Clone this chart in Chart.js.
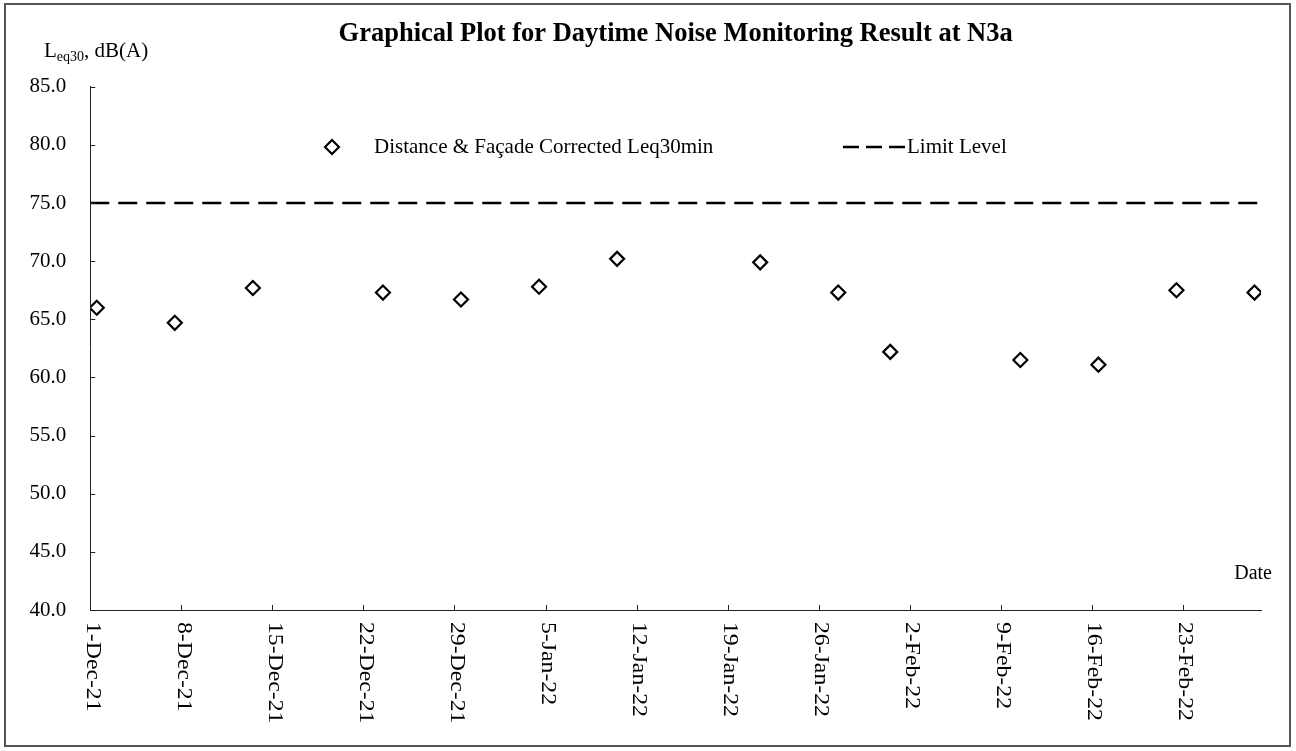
<!DOCTYPE html>
<html lang="en">

<head>
    <meta charset="UTF-8">
    <title>Daytime Noise Monitoring N3a</title>
    <script src="https://cdn.jsdelivr.net/npm/chart.js"></script>
    <style>
        body { margin: 0; background: #fff; }
    </style>
</head>

<body>
    <canvas id="noiseChart" width="1296" height="751"></canvas>
    <script>
        // measurement dates and corrected Leq30min, dB(A)
        const measureDates = ['2021-12-01', '2021-12-07', '2021-12-13', '2021-12-23', '2021-12-29', '2022-01-04', '2022-01-10',
            '2022-01-21', '2022-01-27', '2022-01-31', '2022-02-10', '2022-02-16', '2022-02-22', '2022-02-28'];
        const leq30 = [66.0, 64.7, 67.7, 67.3, 66.7, 67.8, 70.2, 69.9, 67.3, 62.2, 61.5, 61.1, 67.5, 67.3];

        // limit level across the whole period
        const limitDates = ['2021-12-01', '2022-03-01'];
        const limitLevel = [75, 75];

        // axis
        const axisStart = '2021-12-01';
        const axisEnd = '2022-03-01';
        const xTickLabels = ['1-Dec-21', '8-Dec-21', '15-Dec-21', '22-Dec-21', '29-Dec-21', '5-Jan-22', '12-Jan-22',
            '19-Jan-22', '26-Jan-22', '2-Feb-22', '9-Feb-22', '16-Feb-22', '23-Feb-22'];
        const yMin = 40, yMax = 85, yStep = 5;

        const serif = "'Liberation Serif', 'Times New Roman', serif";
        const day0 = Date.parse(axisStart + 'T00:00:00Z');
        // days since axis start; readings are plotted at midday
        function dayOf(s, hour) {
            return (Date.parse(s + 'T' + (hour || '00') + ':00:00Z') - day0) / 864e5;
        }

        const leqPoints = measureDates.map((d, i) => ({ x: dayOf(d, '12'), y: leq30[i] }));
        const limitPoints = limitDates.map((d, i) => ({ x: dayOf(d), y: limitLevel[i] }));

        const decorations = {
            id: 'decorations',
            afterDraw(chart) {
                const { ctx, chartArea } = chart;
                const xs = chart.scales.x, ys = chart.scales.y;
                ctx.save();

                // frame
                ctx.strokeStyle = '#555';
                ctx.lineWidth = 2;
                ctx.strokeRect(5, 4, 1285, 742);

                // inward tick marks
                ctx.strokeStyle = '#222';
                ctx.lineWidth = 1;
                ctx.beginPath();
                xTickLabels.forEach((t, i) => {
                    const px = Math.round(xs.getPixelForValue(i * 7)) + 0.5;
                    ctx.moveTo(px, chartArea.bottom);
                    ctx.lineTo(px, chartArea.bottom - 5);
                });
                ys.ticks.forEach(t => {
                    const py = Math.round(ys.getPixelForValue(t.value)) + 0.5;
                    ctx.moveTo(chartArea.left, py);
                    ctx.lineTo(chartArea.left + 5, py);
                });
                ctx.stroke();

                // rotated date labels
                ctx.fillStyle = '#000';
                ctx.font = '21px ' + serif;
                ctx.textAlign = 'left';
                ctx.textBaseline = 'middle';
                xTickLabels.forEach((t, i) => {
                    ctx.save();
                    ctx.translate(xs.getPixelForValue(i * 7) + 2, chartArea.bottom + 12);
                    ctx.rotate(Math.PI / 2);
                    ctx.scale(1.13, 1);
                    ctx.fillText(t, 0, 0);
                    ctx.restore();
                });

                // y axis title with subscript
                ctx.textBaseline = 'alphabetic';
                let tx = 44;
                ctx.font = '21px ' + serif;
                ctx.fillText('L', tx, 57);
                tx += ctx.measureText('L').width;
                ctx.font = '14px ' + serif;
                ctx.fillText('eq30', tx, 61);
                tx += ctx.measureText('eq30').width;
                ctx.font = '21px ' + serif;
                ctx.fillText(', dB(A)', tx, 57);

                // x axis title
                ctx.font = '20px ' + serif;
                ctx.textAlign = 'right';
                ctx.fillText('Date', 1272, 579);

                // legend
                const ly = 147;
                ctx.font = '21px ' + serif;
                ctx.textAlign = 'left';
                ctx.textBaseline = 'middle';
                ctx.beginPath();
                ctx.moveTo(332, ly - 7);
                ctx.lineTo(339, ly);
                ctx.lineTo(332, ly + 7);
                ctx.lineTo(325, ly);
                ctx.closePath();
                ctx.fillStyle = '#fff';
                ctx.fill();
                ctx.lineWidth = 2.2;
                ctx.strokeStyle = '#000';
                ctx.stroke();
                ctx.fillStyle = '#000';
                ctx.fillText('Distance & Façade Corrected Leq30min', 374, ly);

                ctx.beginPath();
                ctx.setLineDash([16, 7]);
                ctx.lineWidth = 2.5;
                ctx.moveTo(843, ly);
                ctx.lineTo(905, ly);
                ctx.stroke();
                ctx.setLineDash([]);
                ctx.fillText('Limit Level', 907, ly);

                ctx.restore();
            }
        };

        const noiseChart = new Chart(document.getElementById('noiseChart'), {
            type: 'scatter',
            data: {
                datasets: [{
                    label: 'Distance & Façade Corrected Leq30min',
                    data: leqPoints,
                    pointStyle: 'rectRot',
                    pointRadius: 7,
                    pointBorderWidth: 2.2,
                    borderColor: '#000',
                    backgroundColor: '#fff'
                }, {
                    label: 'Limit Level',
                    data: limitPoints,
                    showLine: true,
                    borderColor: '#000',
                    borderWidth: 2.5,
                    borderDash: [19, 9],
                    pointRadius: 0
                }]
            },
            options: {
                responsive: false,
                animation: false,
                layout: { padding: { left: 5.5, right: 35, top: 0, bottom: 141 } },
                plugins: {
                    legend: { display: false },
                    tooltip: { enabled: false },
                    title: {
                        display: true,
                        fullSize: false,
                        text: 'Graphical Plot for Daytime Noise Monitoring Result at N3a',
                        color: '#000',
                        font: { family: serif, size: 26.5, weight: 'bold' },
                        padding: { top: 18, bottom: 37 }
                    }
                },
                scales: {
                    x: {
                        type: 'linear',
                        min: 0,
                        max: dayOf(axisEnd),
                        grid: { display: false, drawTicks: false },
                        border: { display: true, color: '#222', width: 1 },
                        ticks: { display: false, stepSize: 7 }
                    },
                    y: {
                        min: yMin,
                        max: yMax,
                        grid: { display: false, drawTicks: false },
                        border: { display: true, color: '#222', width: 1 },
                        ticks: {
                            stepSize: yStep,
                            padding: 24,
                            color: '#000',
                            font: { family: serif, size: 21 },
                            callback: v => v.toFixed(1)
                        }
                    }
                }
            },
            plugins: [decorations]
        });
    </script>
</body>

</html>
